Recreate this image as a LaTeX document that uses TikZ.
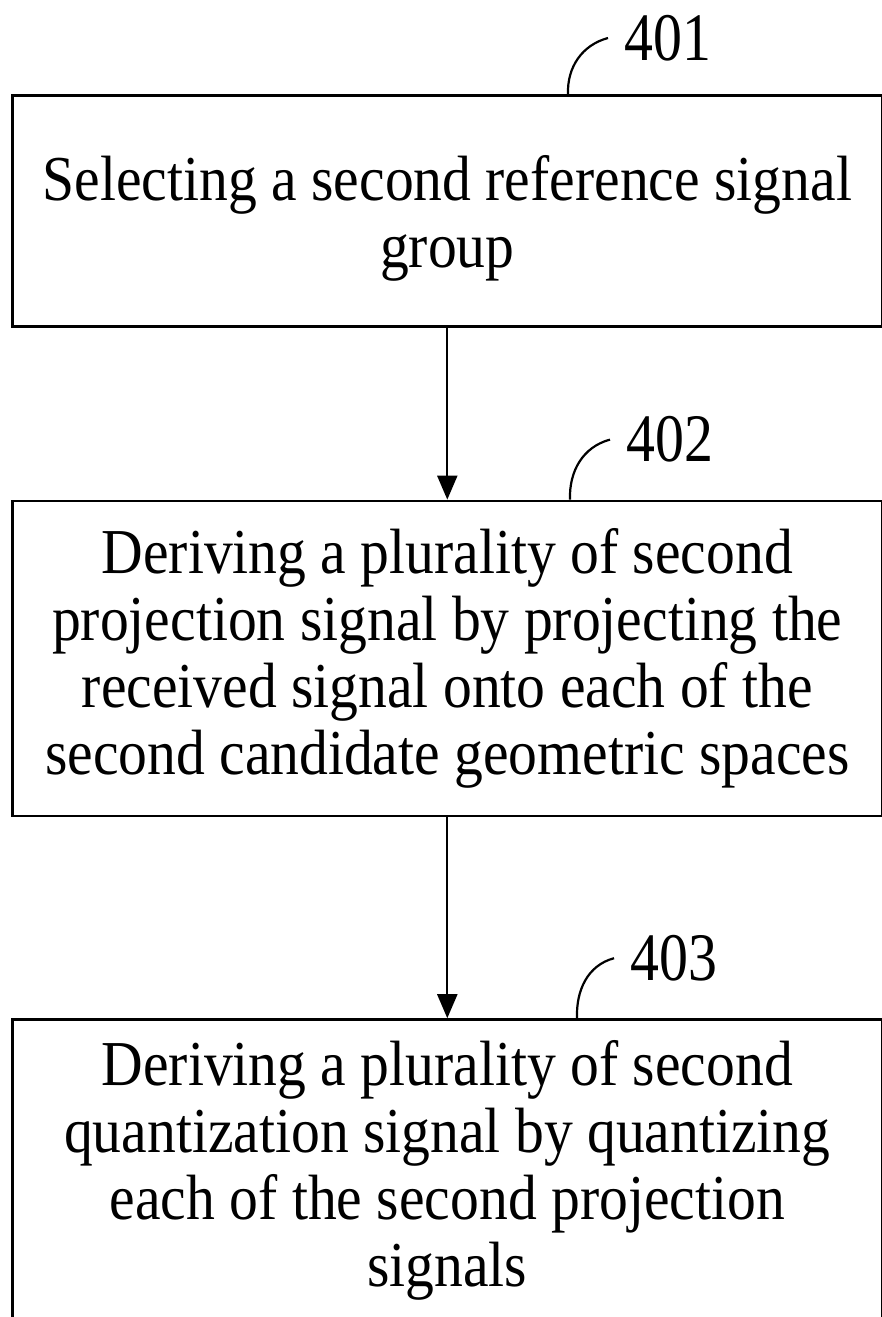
\documentclass[tikz,border=0pt]{standalone}
\usepackage{fontspec}
\setmainfont{Liberation Serif}[FakeStretch=0.9]
\newfontfamily\tagfont{Liberation Serif}[FakeStretch=0.85]
\usetikzlibrary{arrows.meta,positioning,calc}

\begin{document}
\begin{tikzpicture}[box/.style={draw,line width=1.3pt,align=center,minimum width=435pt,inner sep=0pt,font=\fontsize{32}{33.5}\selectfont},arr/.style={-{Triangle[length=12pt,width=10pt]},line width=1.1pt},tag/.style={anchor=west,inner xsep=8pt,inner ysep=0pt,font=\tagfont\fontsize{34}{36}\selectfont},lead/.style={line width=1.1pt},node distance=86pt]
\useasboundingbox (0,0) rectangle (441pt,-658.5pt);
\node[box,minimum height=115.5pt,anchor=north west] (s401) at (5.5pt,-47pt) {\rule{0pt}{30pt}Selecting a second reference signal\\group};
\node[box,minimum height=157.5pt,below=of s401] (s402) {Deriving a plurality of second\\projection signal by projecting the\\received signal onto each of the\\second candidate geometric spaces};
\node[box,minimum height=150.5pt,below=100.5pt of s402] (s403) {Deriving a plurality of second\\quantization signal by quantizing\\each of the second projection\\signals};
% reference numerals
\coordinate (t401) at ($(s401.north west)+(278.5pt,0)$);
\coordinate (t402) at ($(s402.north west)+(279.5pt,0)$);
\coordinate (t403) at ($(s403.north west)+(283pt,0)$);
\node[tag] (n401) at ($(t401)+(20pt,28pt)$) {401};
\node[tag] (n402) at ($(t402)+(20pt,30pt)$) {402};
\node[tag] (n403) at ($(t403)+(18.5pt,30pt)$) {403};
\draw[lead] (t401) to[out=92,in=195] (n401.west);
\draw[lead] (t402) to[out=92,in=195] (n402.west);
\draw[lead] (t403) to[out=92,in=195] (n403.west);
\draw[arr] (s401)--(s402);
\draw[arr] (s402)--(s403);
\end{tikzpicture}
\end{document}
